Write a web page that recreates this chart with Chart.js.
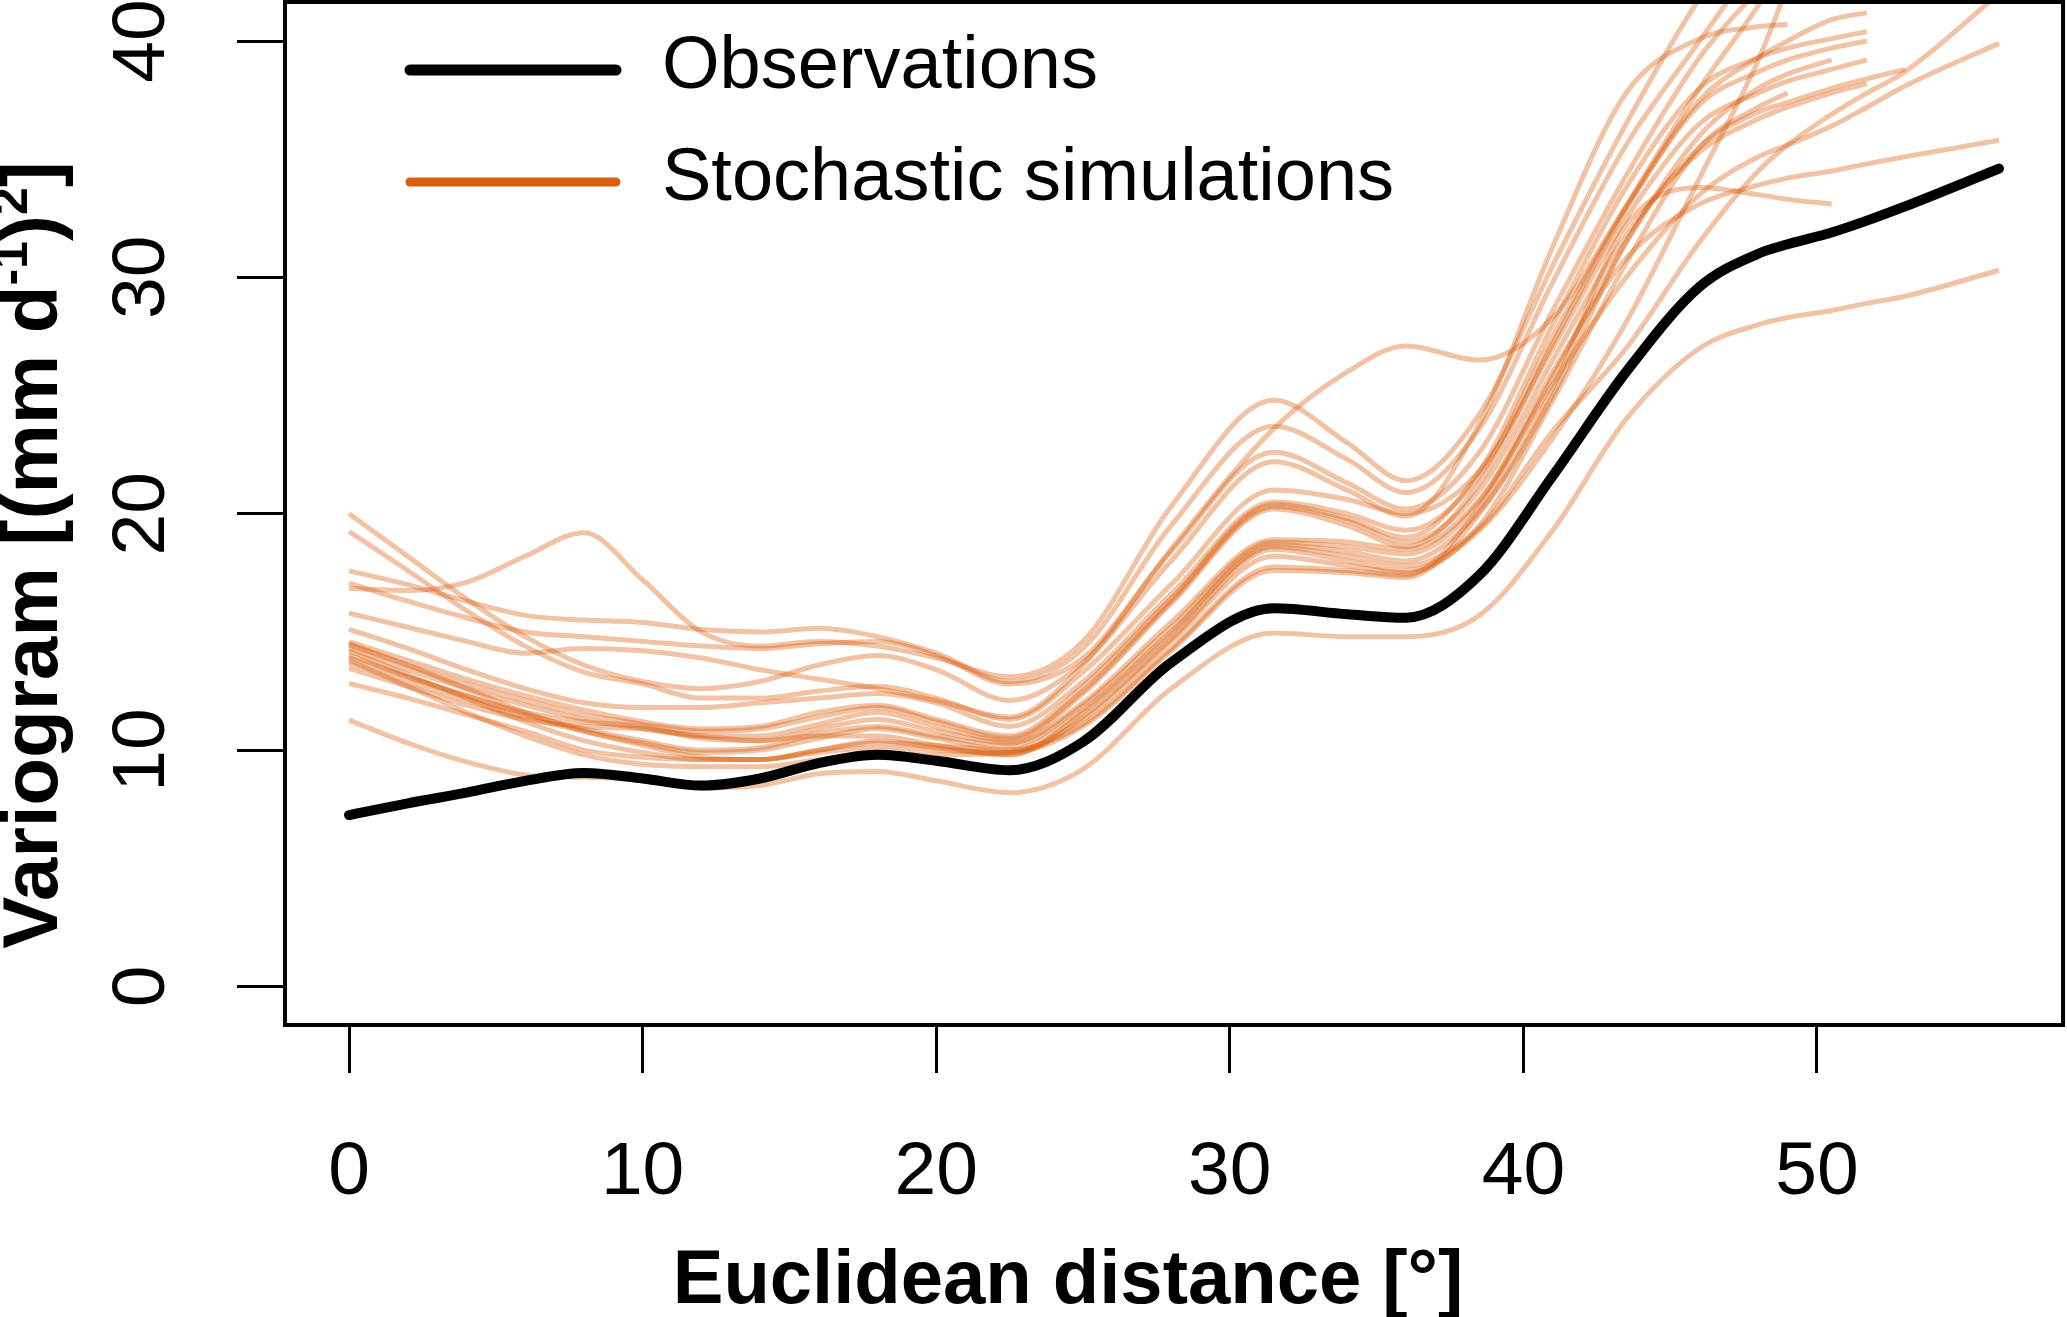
<!DOCTYPE html>
<html>
<head>
<meta charset="utf-8">
<script src="https://cdn.jsdelivr.net/npm/chart.js@4.4.1/dist/chart.umd.min.js"></script>
<style>
  html, body { margin: 0; padding: 0; background: #ffffff; }
  #wrap { width: 2067px; height: 1317px; }
</style>
</head>
<body>
<div id="wrap"><canvas id="c" width="2067" height="1317"></canvas></div>
<script>
// ---- data ----
const distance = [0,2,4,6,8,10,12,14,16,18,20,22.5,25,28,31.5,34,36,38.5,41,43.5,46,48,49,50.5,51.7,53,56.2];
const xTicks = [0,10,20,30,40,50];
const yTicks = [0,10,20,30,40];

const observations = [7.25,7.75,8.2,8.7,9.03,8.8,8.5,8.8,9.45,9.8,9.55,9.15,10.35,13.7,16.0,15.75,15.6,17.4,21.6,26.0,29.6,31.0,31.4,31.9,32.4,33.0,34.6];

const sim01 = [16.85,16.75,17.1,18.2,19.2,17.2,15.0,14.4,14.6,14.4,13.9,13.1, 14.6,20.3,24.8,23.0,21.4,24.2, 30.5,36.5,41.8,45.0,null,null,null,null,null];
const sim02 = [17.58,17.0,16.3,15.7,15.5,15.4,15.1,15.0,15.15,14.8,14.1,12.9, 14.3,19.5,23.7,22.3,20.9,23.6, 29.8,35.6,40.0,43.5,null,null,null,null,null];
const sim03 = [17.06,16.3,15.6,15.0,14.8,14.6,14.4,14.3,14.5,14.6,14.0,12.8, 13.9,18.4,22.6,21.3,20.2,22.6, 28.6,34.3,39.3,42.2,null,null,null,null,null];
const sim04 = [20.0,18.2,16.4,14.8,13.6,12.9,12.6,12.9,13.6,14.0,13.4,12.1, 13.7,18.0,22.2,21.0,19.9,23.8, 31.3,37.8,40.1,40.6,40.7,null,null,null,null];
const sim05 = [15.79,15.2,14.6,14.1,14.3,14.2,13.9,13.4,13.0,12.6,12.1,11.4, 13.6,18.5,23.6,26.0,27.1,26.5, 28.3,33.0,37.5,39.3,40.0,40.9,41.2,null,null];
const sim06 = [19.25,17.6,15.9,14.4,13.3,12.8,12.2,12.2,12.5,12.7,12.2,11.3, 13.3,17.0,21.0,20.6,20.0,21.8, 27.0,32.5,36.5,37.8,38.3,38.8,39.2,null,null];
const sim07 = [15.11,14.3,13.4,12.6,12.0,11.8,11.8,12.0,12.2,12.4,12.0,11.0, 12.9,16.6,20.5,20.0,19.3,21.6, 27.5,33.0,38.0,41.5,43.5,null,null,null,null];
const sim08 = [14.59,13.8,13.0,12.3,11.7,11.2,10.9,11.0,11.6,11.9,11.3,10.6, 12.7,16.4,20.4,19.8,19.0,21.8, 28.0,33.8,38.0,39.3,39.7,40.1,40.4,null,null];
const sim09 = [14.45,13.6,12.8,12.1,11.5,11.1,10.8,10.9,11.4,11.8,11.2,10.5, 12.5,16.3,20.3,19.7,18.8,21.0, 26.5,31.8,35.3,36.7,37.2,37.8,38.2,null,null];
const sim10 = [14.3,13.4,12.6,11.9,11.3,10.9,10.6,10.6,11.1,11.6,11.0,10.4, 12.4,16.2,20.2,19.5,18.6,21.3, 27.2,32.9,37.3,38.7,39.2,39.7,40.0,null,null];
const sim11 = [14.03,13.1,12.3,11.6,11.2,11.0,10.5,10.4,10.9,11.3,10.8,10.3, 12.0,15.4,18.9,18.8,18.5,20.6, 25.5,30.0,33.5,35.1,35.6,36.4,37.2,38.1,39.9];
const sim12 = [13.9,13.1,12.3,11.5,10.9,10.4,10.0,10.1,10.7,11.0,10.6,10.2, 11.9,15.2,18.8,18.6,18.3,20.5, 26.0,30.8,33.1,33.9,34.2,34.5,34.8,35.1,35.8];
const sim13 = [13.67,12.9,12.1,11.4,10.8,10.3,9.9,10.0,10.5,10.9,10.5,10.0, 11.7,15.0,18.7,18.4,18.0,20.1, 25.0,31.5,35.5,37.0,37.4,38.0,38.4,38.8,null];
const sim14 = [13.46,12.7,11.9,11.3,11.0,10.9,10.6,10.4,10.6,10.6,10.2,9.8, 11.6,14.9,18.6,18.2,17.8,19.4, 23.5,27.0,31.5,34.5,35.6,36.9,37.8,38.7,42.0];
const sim15 = [12.82,12.2,11.5,10.8,10.0,9.7,9.6,9.6,10.0,10.4,10.1,9.8, 11.4,14.7,18.5,18.0,17.6,19.3, 23.2,28.1,34.2,39.2,42.3,null,null,null,null];
const sim16 = [14.5,13.6,12.6,11.6,10.8,10.2,9.7,9.6,10.0,10.3,10.2,10.0, 11.1,14.3,17.75,17.6,17.4,20.3, 25.8,31.5,36.0,38.0,38.6,39.2,null,null,null];
const sim17 = [14.2,13.2,12.2,11.2,10.4,9.9,9.6,9.6,9.9,10.1,10.0,9.9, 11.0,14.2,17.6,17.5,17.3,20.0, 25.3,32.2,33.8,33.5,33.3,33.1,null,null,null];
const sim18 = [13.8,12.7,11.6,10.6,9.8,9.4,9.3,9.3,9.6,9.9,9.8,9.9, 11.3,14.6,18.2,17.8,17.5,19.5, 24.8,30.6,35.5,37.2,37.8,null,null,null,null];
const sim19 = [11.27,10.3,9.5,8.95,8.85,8.75,8.4,8.5,9.0,9.1,8.7,8.2, 9.2,12.6,14.95,14.8,14.8,15.7, 19.3,24.0,27.0,28.0,28.3,28.6,28.9,29.2,30.3];

const simulations = [sim01,sim02,sim03,sim04,sim05,sim06,sim07,sim08,sim09,sim10,sim11,sim12,sim13,sim14,sim15,sim16,sim17,sim18,sim19];

const obsLabel = 'Observations';
const simLabel = 'Stochastic simulations';
const xTitle = 'Euclidean distance [°]';

// ---- styles ----
const BLACK = '#000000';
const ORANGE = 'rgb(217,95,14)';
const ORANGE_T = 'rgba(217,95,14,0.38)';

function toPoints(vals) {
  return distance.map((d, i) => ({ x: d, y: vals[i] }));
}

const datasets = [{
  label: obsLabel,
  data: toPoints(observations),
  borderColor: BLACK,
  borderWidth: 10,
  borderCapStyle: 'round',
  borderJoinStyle: 'round',
  pointRadius: 0,
  cubicInterpolationMode: 'monotone',
  clip: 0,
  order: 0
}];
simulations.forEach((s, i) => {
  datasets.push({
    label: i === 0 ? simLabel : simLabel + ' ' + (i + 1),
    data: toPoints(s),
    borderColor: ORANGE_T,
    legendColor: ORANGE,
    borderWidth: 5,
    borderCapStyle: 'butt',
    pointRadius: 0,
    cubicInterpolationMode: 'monotone',
    clip: 0,
    order: 1
  });
});

function noPad(s) {
  s.paddingTop = 0; s.paddingBottom = 0; s.paddingLeft = 0; s.paddingRight = 0;
}

const decorPlugin = {
  id: 'decor',
  afterDraw(chart) {
    const ctx = chart.ctx;
    const a = chart.chartArea;
    ctx.save();
    // box
    ctx.strokeStyle = BLACK;
    ctx.lineWidth = 4;
    ctx.strokeRect(a.left, a.top, a.right - a.left, a.bottom - a.top);

    // legend
    const ds = chart.data.datasets;
    const items = [
      { color: ds[0].borderColor, width: 11, label: ds[0].label, y: 70, base: 88 },
      { color: ds[1].legendColor, width: 9, label: ds[1].label, y: 182, base: 200 }
    ];
    ctx.lineCap = 'round';
    items.forEach(it => {
      ctx.strokeStyle = it.color;
      ctx.lineWidth = it.width;
      ctx.beginPath();
      ctx.moveTo(410, it.y);
      ctx.lineTo(616, it.y);
      ctx.stroke();
      ctx.fillStyle = BLACK;
      ctx.font = '74px "Liberation Sans", Arial, sans-serif';
      ctx.textAlign = 'left';
      ctx.textBaseline = 'alphabetic';
      ctx.fillText(it.label, 662, it.base);
    });

    // x title
    ctx.font = 'bold 76px "Liberation Sans", Arial, sans-serif';
    ctx.textAlign = 'center';
    ctx.fillText(xTitle, 1068, 1303);

    // y title with superscripts
    const big = 'bold 78px "Liberation Sans", Arial, sans-serif';
    const small = 'bold 50px "Liberation Sans", Arial, sans-serif';
    const segs = [
      { t: 'Variogram [(mm d', f: big, dy: 0 },
      { t: '-1', f: small, dy: -30 },
      { t: ')', f: big, dy: 0 },
      { t: '2', f: small, dy: -30 },
      { t: ']', f: big, dy: 0 }
    ];
    let total = 0;
    segs.forEach(s => { ctx.font = s.f; s.w = ctx.measureText(s.t).width; total += s.w; });
    ctx.translate(57, 555);
    ctx.rotate(-Math.PI / 2);
    ctx.textAlign = 'left';
    let x = -total / 2;
    segs.forEach(s => {
      ctx.font = s.f;
      ctx.fillText(s.t, x, s.dy);
      x += s.w;
    });
    ctx.restore();
  }
};

new Chart(document.getElementById('c'), {
  type: 'line',
  data: { datasets },
  options: {
    responsive: false,
    animation: false,
    events: [],
    layout: { padding: { left: 0, top: 2, right: 4, bottom: 0 } },
    plugins: { legend: { display: false }, tooltip: { enabled: false }, title: { display: false } },
    elements: { line: { tension: 0 }, point: { radius: 0 } },
    scales: {
      x: {
        type: 'linear',
        position: 'bottom',
        min: -2.18,
        max: 58.38,
        afterBuildTicks: s => { s.ticks = xTicks.map(v => ({ value: v })); },
        afterFit: s => { s.height = 292; noPad(s); },
        ticks: {
          color: BLACK,
          font: { family: '"Liberation Sans", Arial, sans-serif', size: 75 },
          padding: 55,
          maxRotation: 0,
          minRotation: 0,
          autoSkip: false
        },
        grid: { drawOnChartArea: false, drawTicks: true, tickLength: 48, tickWidth: 3, tickColor: BLACK },
        border: { display: false },
        title: { display: false }
      },
      y: {
        type: 'linear',
        position: 'left',
        min: -1.63,
        max: 41.65,
        afterBuildTicks: s => { s.ticks = yTicks.map(v => ({ value: v })); },
        afterFit: s => { s.width = 285; noPad(s); },
        ticks: {
          color: BLACK,
          font: { family: '"Liberation Sans", Arial, sans-serif', size: 75 },
          padding: 52,
          minRotation: 90,
          maxRotation: 90,
          crossAlign: 'center',
          autoSkip: false
        },
        grid: { drawOnChartArea: false, drawTicks: true, tickLength: 48, tickWidth: 3, tickColor: BLACK },
        border: { display: false },
        title: { display: false }
      }
    }
  },
  plugins: [decorPlugin]
});
</script>
</body>
</html>
